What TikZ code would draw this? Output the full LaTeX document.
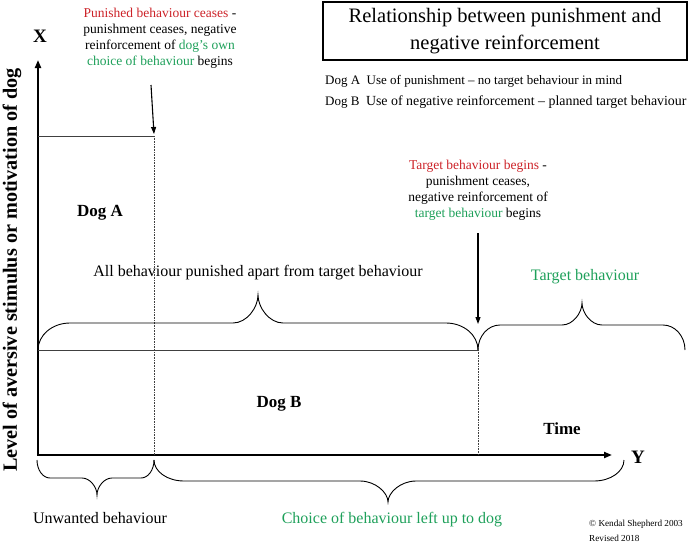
\documentclass[tikz,border=0pt]{standalone}
\usepackage{fontspec}
\setmainfont{Liberation Serif}
\usetikzlibrary{arrows.meta}
\definecolor{pred}{RGB}{204,34,40}
\definecolor{pgreen}{RGB}{30,160,90}
\newcommand{\bracepth}[8]{%
  (#1,#4) .. controls (#1,{#4+0.552*(#5-#4)}) and ({#1+0.448*#7},#5) .. ({#1+#7},#5)
  -- ({#3-#8},#5) .. controls ({#3-0.448*#8},#5) and (#3,{#5+0.552*(#6-#5)}) .. (#3,#6)
  .. controls (#3,{#5+0.552*(#6-#5)}) and ({#3+0.448*#8},#5) .. ({#3+#8},#5)
  -- ({#2-#7},#5) .. controls ({#2-0.448*#7},#5) and (#2,{#4+0.552*(#5-#4)}) .. (#2,#4)}
\begin{document}
\begin{tikzpicture}[x=1pt,y=-1pt,
  axis/.style={line width=2.2pt,-{Triangle[length=8pt,width=6pt]}},
  pointer/.style={line width=1.1pt,-{Triangle[length=7pt,width=5pt]}},
  level/.style={line width=0.8pt,black!75},
  marker/.style={line width=0.6pt,densely dotted,black!75},
  bracestyle/.style={line width=0.9pt},
  note/.style={font=\fontsize{13.5}{16.3}\selectfont,align=center,inner sep=0pt},
  label/.style={font=\fontsize{16}{19}\selectfont,inner sep=0pt},
  boldlabel/.style={font=\fontsize{17}{20}\selectfont\bfseries,inner sep=0pt},
]
\useasboundingbox (0,0) rectangle (690,543);

% axes
\coordinate (origin) at (38,455);
\coordinate (ytop) at (38,60);
\coordinate (xend) at (612,455);
\draw[axis] (origin) -- (ytop);
\draw[axis] ([xshift=-1.1pt]origin) -- (xend);
\node[font=\fontsize{19}{22}\selectfont\bfseries,inner sep=0pt] (xlab) at (40,36) {X};
\node[font=\fontsize{19}{22}\selectfont\bfseries,inner sep=0pt] (ylab) at (638,457) {Y};
\node[font=\fontsize{20.2}{22}\selectfont\bfseries,rotate=90,inner sep=0pt] (vlab) at (12,270)
  {Level of aversive stimulus or motivation of dog};

% title
\node[draw,line width=1.5pt,minimum width=364pt,minimum height=58pt,align=center,
  font=\fontsize{20.5}{27}\selectfont,inner sep=0pt] (title) at (505,31)
  {Relationship between punishment and\\negative reinforcement};
\node[anchor=west,align=left,font=\fontsize{13}{21}\selectfont,inner sep=0pt] (legend) at (325,92)
  {Dog A\ \ Use of punishment -- no target behaviour in mind\\
   Dog B\ \ {\fontsize{13.9}{21}\selectfont Use of negative reinforcement -- planned target behaviour}};

% Dog A level
\coordinate (a0) at (38,136);
\coordinate (a1) at (154,136);
\coordinate (a2) at (154,455);
\draw[level] (a0) -- (a1);
\draw[marker] (a1) -- (a2);
\node[note,anchor=north] (noteA) at (160,7.5)
  {\textcolor{pred}{Punished behaviour ceases} -\\
   punishment ceases, negative\\
   reinforcement of \textcolor{pgreen}{dog's own}\\
   \textcolor{pgreen}{choice of behaviour} begins};
\coordinate (pa0) at (151,85);
\coordinate (pa1) at (154,134);
\draw[pointer] (pa0) -- (pa1);
\node[boldlabel] (dogA) at (100,213) {Dog A};

% Dog B level
\coordinate (b0) at (38,350);
\coordinate (b1) at (478,350);
\coordinate (b2) at (478,455);
\draw[level] (b0) -- (b1);
\draw[marker] (b1) -- (b2);
\node[note,anchor=north] (noteB) at (478,159.5)
  {\textcolor{pred}{Target behaviour begins} -\\
   punishment ceases,\\
   negative reinforcement of\\
   \textcolor{pgreen}{target behaviour} begins};
\coordinate (pb0) at (478,233);
\coordinate (pb1) at (478,324);
\draw[pointer] (pb0) -- (pb1);
\node[boldlabel] (dogB) at (279,404) {Dog B};
\node[boldlabel] (time) at (562,429) {Time};

% braces above
\draw[bracestyle] \bracepth{38}{478}{258}{350}{323}{295}{32}{25};
\node[label] (allbeh) at (258,273) {All behaviour punished apart from target behaviour};
\draw[bracestyle] \bracepth{478}{685}{582}{350}{325}{303}{22}{20};
\node[label,text=pgreen] (targ) at (585,277) {Target behaviour};

% braces below
\draw[bracestyle] \bracepth{37}{154}{97}{460}{478}{495}{13}{15};
\node[label] (unw) at (100,518) {Unwanted behaviour};
\draw[bracestyle] \bracepth{154}{624}{388}{460}{481}{502}{30}{28};
\node[label,text=pgreen] (choice) at (392,520) {Choice of behaviour left up to dog};

% copyright
\node[anchor=west,align=left,font=\fontsize{9.2}{15}\selectfont,inner sep=0pt] (copy) at (589,530.5)
  {\textcopyright{} Kendal Shepherd 2003\\Revised 2018};
\end{tikzpicture}
\end{document}
